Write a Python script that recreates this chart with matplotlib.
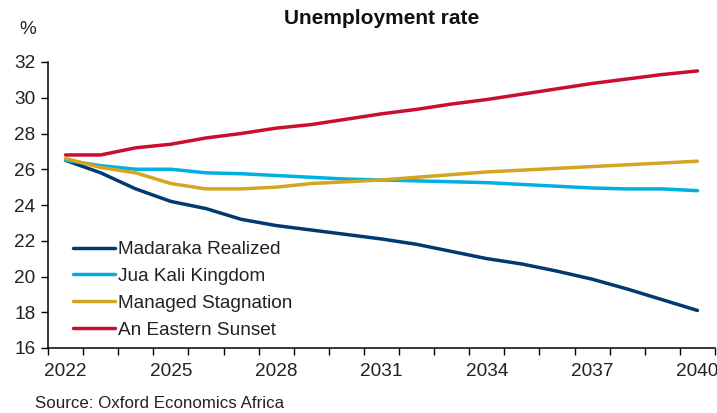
import matplotlib.pyplot as plt
from matplotlib.ticker import FixedLocator, NullFormatter

plt.rcParams['font.family'] = ['Liberation Sans', 'DejaVu Sans']

# Data
years = list(range(2022, 2041))
madaraka = [26.5, 25.8, 24.9, 24.2, 23.8, 23.2, 22.85, 22.6, 22.35, 22.1,
            21.8, 21.4, 21.0, 20.7, 20.3, 19.85, 19.3, 18.7, 18.1]
jua_kali = [26.5, 26.2, 26.0, 26.0, 25.8, 25.75, 25.65, 25.55, 25.45, 25.4,
            25.35, 25.3, 25.25, 25.15, 25.05, 24.95, 24.9, 24.9, 24.8]
managed = [26.6, 26.1, 25.8, 25.2, 24.9, 24.9, 25.0, 25.2, 25.3, 25.4,
           25.55, 25.7, 25.85, 25.95, 26.05, 26.15, 26.25, 26.35, 26.45]
eastern = [26.8, 26.8, 27.2, 27.4, 27.75, 28.0, 28.3, 28.5, 28.8, 29.1,
           29.35, 29.65, 29.9, 30.2, 30.5, 30.8, 31.05, 31.3, 31.5]
series_names = ["Madaraka Realized", "Jua Kali Kingdom", "Managed Stagnation", "An Eastern Sunset"]
colors = ["#003A70", "#00B0E0", "#D4A520", "#C8102E"]

fs = 13.7

fig = plt.figure(figsize=(7.17, 4.13), dpi=100)
ax = fig.add_axes([48/717, 65/413, (715-48)/717, (348-62)/413])

x = list(range(len(years)))
for vals, name, c in zip([madaraka, jua_kali, managed, eastern], series_names, colors):
    ax.plot(x, vals, color=c, lw=2.5, label=name, solid_capstyle='round')

ax.set_xlim(-0.5, len(years) - 0.5)
ax.set_ylim(16, 32)
ax.set_yticks(range(16, 33, 2))

# ticks at category boundaries, labels at centres
ax.xaxis.set_major_locator(FixedLocator([i - 0.5 for i in range(len(years) + 1)]))
ax.xaxis.set_major_formatter(NullFormatter())
ax.xaxis.set_minor_locator(FixedLocator(x[::3]))
ax.set_xticklabels([str(y) for y in years[::3]], minor=True)
ax.tick_params(axis='x', which='major', length=5, width=1, direction='out')
ax.tick_params(axis='x', which='minor', length=0, pad=11, labelsize=fs, colors='#222222')
ax.tick_params(axis='y', length=5, width=1, direction='out', labelsize=fs, pad=4,
               colors='#222222')
ax.tick_params(axis='both', color='black')

for s in ['top', 'right']:
    ax.spines[s].set_visible(False)
for s in ['left', 'bottom']:
    ax.spines[s].set_linewidth(1.1)

leg = ax.legend(loc='lower left', bbox_to_anchor=(0.026, 0.006), frameon=False,
                fontsize=fs, handlelength=2.2, handletextpad=0.15,
                labelspacing=0.5, borderaxespad=0)
for t in leg.get_texts():
    t.set_color('#222222')

fig.text(382/717, 1 - 18/413, "Unemployment rate", ha='center', va='center',
         fontsize=15, fontweight='bold', color='#111111')
fig.text(28/717, 1 - 30/413, "%", ha='center', va='center', fontsize=fs, color='#222222')
fig.text(35/717, 1 - 403/413, "Source: Oxford Economics Africa", ha='left', va='center',
         fontsize=12.2, color='#222222')

fig.savefig("out.png", dpi=100)
